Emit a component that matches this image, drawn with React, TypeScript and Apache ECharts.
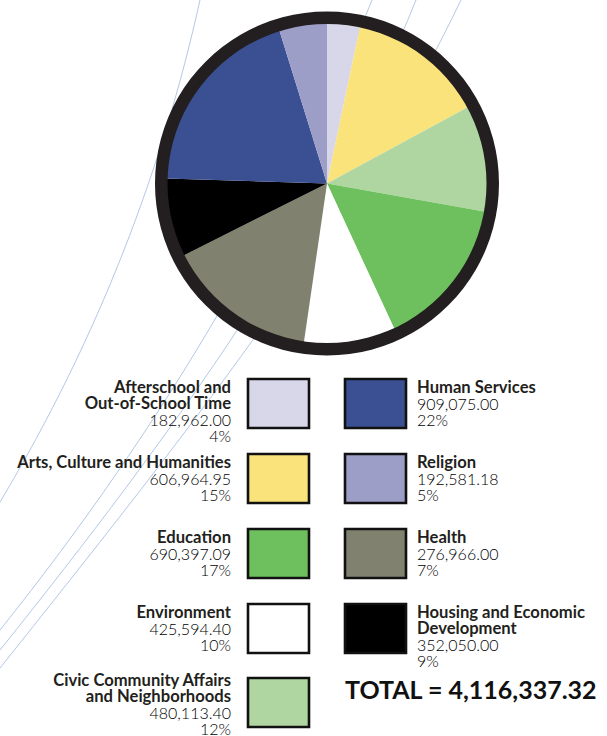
import React, { useEffect, useRef } from "react";
import * as echarts from "echarts";

// ---- data ----
const categories = [
  "Afterschool and\nOut-of-School Time",
  "Arts, Culture and Humanities",
  "Civic Community Affairs\nand Neighborhoods",
  "Education",
  "Environment",
  "Health",
  "Housing and Economic\nDevelopment",
  "Human Services",
  "Religion",
];
const amounts = [182962.0, 606964.95, 480113.4, 690397.09, 425594.4, 276966.0, 352050.0, 909075.0, 192581.18];
const percents = [4, 15, 12, 17, 10, 7, 9, 22, 5];
// share of the circle each slice occupies as drawn in the reference (%)
const sliceShares = [3.3, 13.8, 10.7, 15.3, 9.2, 15.3, 7.9, 19.7, 4.8];
const colors = ["#d8d7e9", "#fae37b", "#afd6a0", "#6ec05e", "#ffffff", "#80816f", "#000000", "#3a5093", "#9d9ec8"];
const totalAmount = 4116337.32;
// legend placement order per column
const leftColumnOrder = [0, 1, 3, 4, 2];
const rightColumnOrder = [7, 8, 5, 6];

const fmt = (v: number) =>
  v.toLocaleString("en-US", { minimumFractionDigits: 2, maximumFractionDigits: 2 });

export default function App() {
  const ref = useRef<HTMLDivElement>(null);
  useEffect(() => {
    if (!ref.current) return;
    const chart = echarts.init(ref.current, null, { renderer: "svg" });
    const H = 736;
    const CX = 327;
    const CY = 183.5;
    const INK = "#231f20";
    const FONT = "Lato, 'Open Sans', sans-serif";
    const rowTops = [378, 453, 528, 603, 677];
    const lineH = 16;
    const graphics: any[] = [];

    // decorative background curves
    const lineColor = "#b3c9e6";
    const curves = [
      [200, 0, 163, 167, 100, 335, 0, 502],
      [372, 0, 288, 210, 168, 420, 0, 630],
      [416, 0, 329, 217, 174, 433, 0, 650],
      [461, 0, 354, 223, 178, 445, 0, 668],
    ];
    curves.forEach((c) => {
      graphics.push({
        type: "bezierCurve",
        z: -10,
        silent: true,
        shape: { x1: c[0], y1: c[1], cpx1: c[2], cpy1: c[3], cpx2: c[4], cpy2: c[5], x2: c[6], y2: c[7] },
        style: { stroke: lineColor, lineWidth: 1, fill: "none" },
      });
    });

    const addEntry = (idx: number, row: number, side: "left" | "right") => {
      const top = rowTops[row];
      const boxX = side === "left" ? 248 : 345;
      graphics.push({
        type: "rect",
        z: 20,
        shape: { x: boxX, y: top + 1, width: 61, height: 49 },
        style: { fill: colors[idx], stroke: "#111111", lineWidth: 2.6 },
      });
      const tx = side === "left" ? 231 : 417;
      const align = side === "left" ? "right" : "left";
      const nameLines = categories[idx].split("\n");
      const parts = nameLines.map((n) => `{n|${n}}`);
      parts.push(`{v|${fmt(amounts[idx])}}`);
      parts.push(`{v|${percents[idx]}%}`);
      const blockH = parts.length * lineH;
      const y = Math.min(top + 1, H - blockH);
      graphics.push({
        type: "text",
        z: 20,
        x: tx,
        y,
        style: {
          text: parts.join("\n"),
          align,
          textAlign: align,
          verticalAlign: "top",
          textVerticalAlign: "top",
          rich: {
            n: { fontFamily: FONT, fontWeight: "bold", fontSize: 16.6, lineHeight: lineH, fill: INK, color: INK },
            v: { fontFamily: FONT, fontWeight: 300, fontSize: 16, lineHeight: lineH, fill: "#000000", color: "#000000" },
          },
        },
      });
    };
    leftColumnOrder.forEach((idx, r) => addEntry(idx, r, "left"));
    rightColumnOrder.forEach((idx, r) => addEntry(idx, r, "right"));

    graphics.push({
      type: "text",
      z: 20,
      x: 345,
      y: 689,
      style: {
        text: "TOTAL = " + fmt(totalAmount),
        font: `bold 25px ${FONT}`,
        fill: "#111111",
        align: "left",
        textAlign: "left",
        verticalAlign: "middle",
        textVerticalAlign: "middle",
      },
    });

    chart.setOption({
      animation: false,
      backgroundColor: "#ffffff",
      graphic: { elements: graphics },
      series: [
        {
          type: "pie",
          z: 2,
          silent: true,
          center: [CX, CY],
          radius: [0, 161],
          startAngle: 90,
          clockwise: true,
          label: { show: false },
          labelLine: { show: false },
          emphasis: { disabled: true },
          itemStyle: { borderWidth: 0 },
          data: categories.map((c, i) => ({
            name: c,
            value: sliceShares[i],
            itemStyle: { color: colors[i] },
          })),
        },
        {
          type: "pie",
          z: 3,
          silent: true,
          center: [CX, CY],
          radius: [159.5, 172],
          label: { show: false },
          labelLine: { show: false },
          emphasis: { disabled: true },
          itemStyle: { borderWidth: 0, color: INK },
          data: [{ name: "ring", value: 1 }],
        },
      ],
    });
    return () => chart.dispose();
  }, []);
  return (
    <div
      ref={ref}
      style={{ position: "fixed", left: 0, top: 0, width: 607, height: 736, background: "#fff" }}
    />
  );
}
